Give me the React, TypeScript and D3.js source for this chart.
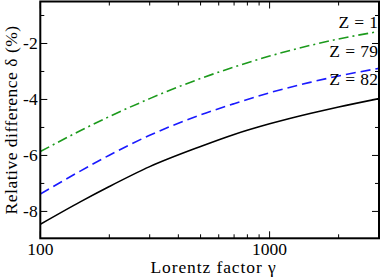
import React from "react";
import * as d3 from "d3";

const gammas = [100, 150, 200, 300, 500, 700, 1000, 1500, 2000, 3000];
const z1 = [-5.86, -5.11, -4.61, -3.97, -3.25, -2.84, -2.45, -2.07, -1.84, -1.57];
const z79 = [-7.38, -6.55, -5.99, -5.28, -4.55, -4.15, -3.76, -3.39, -3.16, -2.89];
const z82 = [-8.46, -7.65, -7.11, -6.4, -5.68, -5.25, -4.87, -4.5, -4.27, -3.97];
const seriesLabels = ["Z = 1", "Z = 79", "Z = 82"];
const xMajor = [100, 1000];
const xMinor = [200, 300, 400, 500, 600, 700, 800, 900, 2000, 3000];
const yMajor = [-8, -6, -4, -2];
const yMinor = [-7, -5, -3, -1];

const W = 382;
const H = 277;
const L = 40.3;
const R = 379;
const T = 1.5;
const B = 238.3;
const FONT = "Liberation Serif";

export default function App() {
  const x = d3.scaleLog().domain([100, 3000]).range([L, R]);
  const y = d3.scaleLinear().domain([-8.96, -0.5]).range([B, T]);
  const line = d3
    .line<[number, number]>()
    .x((d) => x(d[0]))
    .y((d) => y(d[1]))
    .curve(d3.curveMonotoneX);
  const mk = (vals: number[]) => line(gammas.map((g, i) => [g, vals[i]] as [number, number])) || "";
  const series = [
    { vals: z1, color: "#1c9a1c", dash: "10,4,2,4", label: seriesLabels[0], ly: 28 },
    { vals: z79, color: "#1a1aff", dash: "10,5", label: seriesLabels[1], ly: 56.5 },
    { vals: z82, color: "#000000", dash: "", label: seriesLabels[2], ly: 85 },
  ];
  const maj = 7;
  const min = 4;
  const ts = { fontFamily: FONT } as React.CSSProperties;
  return (
    <svg
      width={W}
      height={H}
      style={{ position: "absolute", left: 0, top: 0, background: "#fff", fontFamily: FONT }}
    >
      <defs>
        <clipPath id="plot">
          <rect x={L} y={T} width={R - L} height={B - T} />
        </clipPath>
      </defs>
      <g clipPath="url(#plot)">
        {series.map((s, i) => (
          <path
            key={i}
            d={mk(s.vals)}
            fill="none"
            stroke={s.color}
            strokeWidth={1.6}
            strokeDasharray={s.dash || undefined}
          />
        ))}
      </g>
      {series.map((s, i) => (
        <text
          key={i}
          x={378.5}
          y={s.ly}
          textAnchor="end"
          fontSize={17.5}
          letterSpacing={0.4}
          fill="#000"
          style={ts}
        >
          {s.label}
        </text>
      ))}
      <g stroke="#000" strokeWidth={1}>
        {xMajor.map((v) => (
          <g key={"xM" + v}>
            <line x1={x(v)} x2={x(v)} y1={B} y2={B - maj} />
            <line x1={x(v)} x2={x(v)} y1={T} y2={T + maj} />
          </g>
        ))}
        {xMinor.map((v) => (
          <g key={"xm" + v}>
            <line x1={x(v)} x2={x(v)} y1={B} y2={B - min} />
            <line x1={x(v)} x2={x(v)} y1={T} y2={T + min} />
          </g>
        ))}
        {yMajor.map((v) => (
          <g key={"yM" + v}>
            <line x1={L} x2={L + maj} y1={y(v)} y2={y(v)} />
            <line x1={R} x2={R - maj} y1={y(v)} y2={y(v)} />
          </g>
        ))}
        {yMinor.map((v) => (
          <g key={"ym" + v}>
            <line x1={L} x2={L + min} y1={y(v)} y2={y(v)} />
            <line x1={R} x2={R - min} y1={y(v)} y2={y(v)} />
          </g>
        ))}
      </g>
      <rect x={L} y={T} width={R - L} height={B - T} fill="none" stroke="#000" strokeWidth={2} />
      {xMajor.map((v) => (
        <text key={"xl" + v} x={x(v)} y={254.5} textAnchor="middle" fontSize={17.5} fill="#000" style={ts}>
          {String(v)}
        </text>
      ))}
      {yMajor.map((v) => (
        <text key={"yl" + v} x={37.7} y={y(v) + 6} textAnchor="end" fontSize={17.5} fill="#000" style={ts}>
          {String(v)}
        </text>
      ))}
      <text x={213.5} y={273} textAnchor="middle" fontSize={17.5} letterSpacing={0.9} fill="#000" style={ts}>
        Lorentz factor γ
      </text>
      <text
        transform={`translate(16.5, ${(T + B) / 2}) rotate(-90)`}
        textAnchor="middle"
        fontSize={17.5}
        letterSpacing={0.5}
        fill="#000"
        style={ts}
      >
        Relative difference δ (%)
      </text>
    </svg>
  );
}
